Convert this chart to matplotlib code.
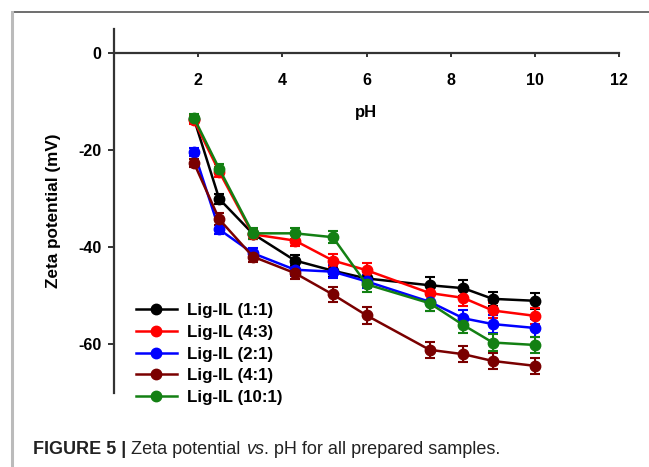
import matplotlib
matplotlib.use("Agg")
import matplotlib.pyplot as plt
from matplotlib.lines import Line2D
import numpy as np

ph = [1.9, 2.5, 3.3, 4.3, 5.2, 6.0, 7.5, 8.3, 9.0, 10.0]

labels = ["Lig-IL (1:1)", "Lig-IL (4:3)", "Lig-IL (2:1)", "Lig-IL (4:1)", "Lig-IL (10:1)"]
colors = ["#000000", "#ff0000", "#0000ff", "#7a0000", "#138013"]

zeta_11 = [-13.5, -30.0, -37.2, -42.7, -44.8, -46.4, -47.8, -48.4, -50.6, -51.0]
zeta_43 = [-13.8, -24.4, -37.3, -38.6, -42.7, -44.7, -49.4, -50.4, -53.0, -54.1]
zeta_21 = [-20.3, -36.3, -41.2, -44.6, -45.0, -47.0, -51.2, -54.6, -55.8, -56.6]
zeta_41 = [-22.6, -34.2, -41.9, -45.3, -49.7, -54.0, -61.1, -62.0, -63.4, -64.4]
zeta_101 = [-13.3, -23.8, -37.1, -37.1, -37.9, -47.6, -51.5, -56.0, -59.6, -60.1]

err_11 = [0.8, 1.0, 1.0, 1.2, 1.2, 1.3, 1.6, 1.6, 1.5, 1.7]
err_43 = [0.8, 1.0, 1.0, 1.2, 1.3, 1.4, 1.6, 1.6, 1.5, 1.7]
err_21 = [0.8, 1.0, 1.0, 1.2, 1.3, 1.3, 2.0, 1.6, 1.8, 1.8]
err_41 = [0.8, 1.2, 1.2, 1.3, 1.5, 1.7, 1.7, 1.7, 1.7, 1.7]
err_101 = [0.8, 1.0, 1.2, 1.2, 1.2, 1.6, 1.6, 1.6, 1.7, 1.7]

series = [zeta_11, zeta_43, zeta_21, zeta_41, zeta_101]
errors = [err_11, err_43, err_21, err_41, err_101]

xticks = [2, 4, 6, 8, 10, 12]
yticks = [0, -20, -40, -60]

W, H = 649, 467
fig = plt.figure(figsize=(W / 100, H / 100), dpi=100)
fig.patch.set_facecolor("white")

bold = dict(family=["Liberation Sans", "DejaVu Sans"], weight="bold")

ax_l, ax_r, ax_t, ax_b = 114, 619, 29, 393
ax = fig.add_axes([ax_l / W, 1 - ax_b / H, (ax_r - ax_l) / W, (ax_b - ax_t) / H])
ax.set_xlim(0, 12)
ax.set_ylim(-70, 5)

for y, e, c, lab in zip(series, errors, colors, labels):
    ax.errorbar(ph, y, yerr=e, fmt="none", ecolor=c, elinewidth=1.5,
                capsize=3.6, capthick=1.5, zorder=2)
    ax.plot(ph, y, "-o", color=c, lw=1.8, ms=7.5, label=lab, zorder=3)

for s in ["top", "right"]:
    ax.spines[s].set_visible(False)
ax.spines["bottom"].set_position(("data", 0))
ax.spines["bottom"].set_color("#333333")
ax.spines["left"].set_color("#333333")
ax.spines["bottom"].set_linewidth(1.6)
ax.spines["left"].set_linewidth(1.6)

ax.set_xticks(xticks)
ax.set_xticklabels([str(t) for t in xticks], fontdict=dict(size=11.5, **bold))
ax.set_yticks(yticks)
ax.set_yticklabels([str(t) for t in yticks], fontdict=dict(size=11.5, **bold))
ax.tick_params(axis="x", direction="out", length=3, width=1.4, pad=11, colors="#333333", labelcolor="black")
ax.tick_params(axis="y", direction="out", length=4, width=1.4, pad=5, colors="#333333", labelcolor="black")

ax.set_xlabel("pH", fontsize=12, **bold)
ax.xaxis.set_label_coords(0.5, 0.792)
ax.set_ylabel("Zeta potential (mV)", fontsize=12.3, **bold)
ax.yaxis.set_label_coords(-0.105, 0.5)

leg = ax.legend(loc="upper left", bbox_to_anchor=(136 / W, 1 - 303 / H),
                bbox_transform=fig.transFigure, frameon=False,
                prop=dict(size=12.2, **bold), handlelength=2.4,
                handletextpad=0.6, labelspacing=0.4, borderpad=0, borderaxespad=0)

# caption box borders
fig.add_artist(Line2D([12 / W, 1], [1 - 12 / H, 1 - 12 / H], transform=fig.transFigure,
                      color="#555555", lw=1.2))
fig.add_artist(Line2D([12 / W, 12 / W], [1 - 12 / H, 0], transform=fig.transFigure,
                      color="#bbbbbb", lw=2.2))

# caption with mixed styles
cap_font = ["Liberation Sans Narrow", "Liberation Sans", "DejaVu Sans"]
parts = [("FIGURE 5 | ", "bold", "normal"),
         ("Zeta potential ", "normal", "normal"),
         ("vs", "normal", "italic"),
         (". pH for all prepared samples.", "normal", "normal")]
fig.canvas.draw()
renderer = fig.canvas.get_renderer()
x = 33
for txt, wt, st in parts:
    t = fig.text(x / W, 1 - 450 / H, txt, fontsize=13, family=cap_font, weight=wt,
                 style=st, va="center", ha="left", color="#222222")
    bb = t.get_window_extent(renderer=renderer)
    x += bb.width

fig.savefig("out.png", dpi=100)
